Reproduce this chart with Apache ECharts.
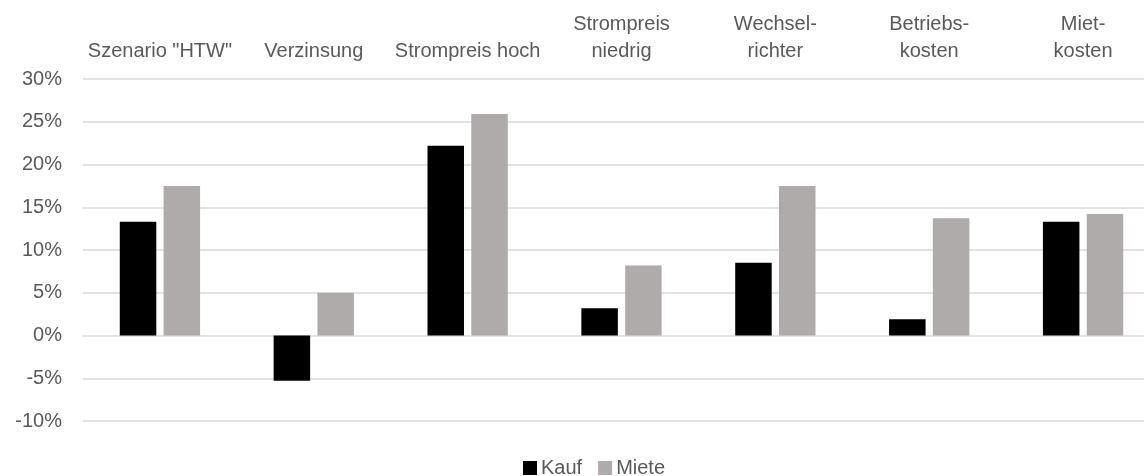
<!DOCTYPE html>
<html>
<head>
<meta charset="utf-8">
<script src="https://cdn.jsdelivr.net/npm/echarts@6/dist/echarts.min.js"></script>
<style>html,body{margin:0;padding:0;background:#fff;overflow:hidden;width:1144px;height:476px;}#c{width:1160px;height:476px;}</style>
</head>
<body>
<div id="c"></div>
<script>
var categories = ['Szenario "HTW"', 'Verzinsung', 'Strompreis hoch', 'Strompreis\nniedrig', 'Wechsel-\nrichter', 'Betriebs-\nkosten', 'Miet-\nkosten'];
var kauf = [13.3, -5.3, 22.2, 3.2, 8.5, 1.9, 13.3];
var miete = [17.5, 5.0, 25.9, 8.2, 17.5, 13.7, 14.2];
var seriesNames = ['Kauf', 'Miete'];
var yTicks = { min: -10, max: 30, interval: 5 };

var font = '"Liberation Sans", Arial, sans-serif';
var chart = echarts.init(document.getElementById('c'), null, { renderer: 'canvas' });
chart.setOption({
  animation: false,
  backgroundColor: '#ffffff',
  grid: { left: 83, right: 0, top: 79, bottom: 55, containLabel: false },
  legend: {
    data: seriesNames,
    left: 523, top: 458,
    itemWidth: 14, itemHeight: 14, itemGap: 16,
    icon: 'rect',
    textStyle: { color: '#595959', fontSize: 20, fontFamily: font, padding: [0, 0, 0, -1] },
    padding: 0
  },
  xAxis: {
    type: 'category',
    position: 'top',
    data: categories,
    axisLine: { show: false },
    axisTick: { show: false },
    axisLabel: { color: '#595959', fontSize: 20, fontFamily: font, lineHeight: 27, margin: 14, interval: 0 }
  },
  yAxis: {
    type: 'value',
    min: yTicks.min, max: yTicks.max, interval: yTicks.interval,
    axisLine: { show: false },
    axisTick: { show: false },
    splitLine: { lineStyle: { color: '#d9d9d9', width: 1.5 } },
    axisLabel: { color: '#595959', fontSize: 20, fontFamily: font, margin: 21, formatter: function (v) { return v + '%'; } }
  },
  series: [
    { name: seriesNames[0], type: 'bar', data: kauf, barWidth: 36.5, barGap: '20%', itemStyle: { color: '#000000' } },
    { name: seriesNames[1], type: 'bar', data: miete, barWidth: 36.5, barGap: '20%', itemStyle: { color: '#aeabaa' } }
  ]
});
</script>
</body>
</html>
